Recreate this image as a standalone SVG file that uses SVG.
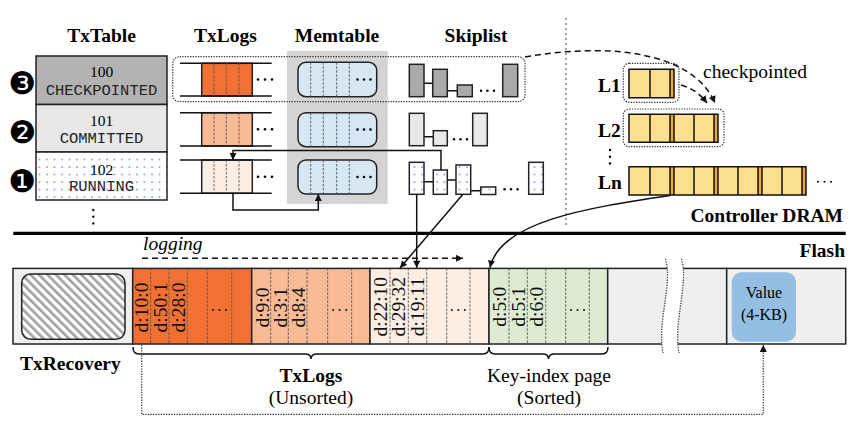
<svg xmlns="http://www.w3.org/2000/svg" width="864" height="432" viewBox="0 0 864 432">
<style>
.s{font-family:"Liberation Serif","Times New Roman",serif;fill:#000}
.hd{font-weight:bold;font-size:19.5px}
.rg{font-size:19.5px}
.n{font-size:15.5px}
.mono{font-family:"Liberation Mono","Courier New",monospace;font-size:15.5px;fill:#222}
.rt{font-family:"Liberation Serif","Times New Roman",serif;font-size:19.5px;text-anchor:middle;fill:#111}
.m{text-anchor:middle}
.bx{stroke:#222;stroke-width:1.5}
.ln{stroke:#111;stroke-width:1.5;fill:none}
.dsh{stroke:#555;stroke-width:0.9;stroke-dasharray:2.5 1.5}
.dot{fill:none;stroke:#333;stroke-width:1.2;stroke-dasharray:1.3 1.3}
.dashed{fill:none;stroke:#111;stroke-width:1.5;stroke-dasharray:6 4}
.circ{font-family:"DejaVu Sans",sans-serif;font-size:31px;text-anchor:middle}
.yl{fill:#fde08e}
.st{fill:#f2a630}
</style>
<defs>
<pattern id="bd" width="7.5" height="7.5" patternUnits="userSpaceOnUse">
<rect width="7.5" height="7.5" fill="#fff"/>
<circle cx="2" cy="2" r="0.8" fill="#5a86d6"/>
</pattern>
<pattern id="hatch" width="6" height="6" patternUnits="userSpaceOnUse" patternTransform="rotate(-45)">
<rect width="6" height="6" fill="#fff"/>
<rect width="2.6" height="6" fill="#a0a0a0"/>
</pattern>
<marker id="ar" viewBox="0 0 10 10" refX="10" refY="5" markerWidth="8" markerHeight="7" markerUnits="userSpaceOnUse" orient="auto">
<path d="M0,0 L10,5 L0,10 z" fill="#111"/>
</marker>
</defs>
<rect width="864" height="432" fill="#fff"/>

<!-- headers -->
<text class="s hd m" x="101.5" y="42">TxTable</text>
<text class="s hd m" x="225.5" y="42">TxLogs</text>
<text class="s hd m" x="337" y="42">Memtable</text>
<text class="s hd m" x="476" y="42">Skiplist</text>

<!-- memtable background -->
<rect x="287" y="51" width="100.7" height="153" fill="#d4d4d4"/>

<!-- TxTable -->
<g id="txtable">
<rect x="36" y="56" width="131" height="48.5" fill="#b3b3b3" class="bx"/>
<rect x="36" y="104.5" width="131" height="47.5" fill="#e8e8e8" class="bx"/>
<rect x="36" y="152" width="131" height="48" fill="url(#bd)" class="bx"/>
<text class="s n m" x="101.5" y="77">100</text>
<text class="mono m" x="101.5" y="94.5">CHECKPOINTED</text>
<text class="s n m" x="101.5" y="125.5">101</text>
<text class="mono m" x="101.5" y="142.5">COMMITTED</text>
<text class="s n m" x="101.5" y="174.5">102</text>
<text class="mono m" x="101.5" y="190.5">RUNNING</text>
<circle cx="93.3" cy="210" r="1.2" fill="#111"/>
<circle cx="93.3" cy="216.7" r="1.2" fill="#111"/>
<circle cx="93.3" cy="223.4" r="1.2" fill="#111"/>
</g>
<g id="steps">
<text class="circ" x="22.5" y="94">❸</text>
<text class="circ" x="22.5" y="143">❷</text>
<text class="circ" x="22.5" y="192">❶</text>
</g>

<!-- TxLogs -->
<g id="txlogs">
<g>
<rect x="201.7" y="63.3" width="50.6" height="32.7" fill="#f07133" class="bx"/>
<line x1="180" y1="63.3" x2="271.7" y2="63.3" class="ln"/>
<line x1="180" y1="96" x2="271.7" y2="96" class="ln"/>
<path d="M214,63.3V96M226.3,63.3V96M239,63.3V96" class="dsh"/>
<circle cx="258" cy="79.5" r="1.3"/><circle cx="265" cy="79.5" r="1.3"/><circle cx="272" cy="79.5" r="1.3"/>
</g>
<g>
<rect x="201.7" y="112.7" width="50.6" height="33.3" fill="#f8bb96" class="bx"/>
<line x1="180" y1="112.7" x2="271.7" y2="112.7" class="ln"/>
<line x1="180" y1="146" x2="271.7" y2="146" class="ln"/>
<path d="M214,112.7V146M226.3,112.7V146M239,112.7V146" class="dsh"/>
<circle cx="258" cy="129.3" r="1.3"/><circle cx="265" cy="129.3" r="1.3"/><circle cx="272" cy="129.3" r="1.3"/>
</g>
<g>
<rect x="201.7" y="160" width="50.6" height="33.3" fill="#fdeee3" class="bx"/>
<line x1="180" y1="160" x2="271.7" y2="160" class="ln"/>
<line x1="180" y1="193.3" x2="271.7" y2="193.3" class="ln"/>
<path d="M214,160V193.3M226.3,160V193.3M239,160V193.3" class="dsh"/>
<circle cx="258" cy="176.7" r="1.3"/><circle cx="265" cy="176.7" r="1.3"/><circle cx="272" cy="176.7" r="1.3"/>
</g>
</g>

<!-- Memtable -->
<g id="memtable">
<rect x="298" y="62.3" width="78.7" height="34.4" rx="8" fill="#d8e7f4" class="bx"/>
<path d="M310.7,62.3V96.7M323.3,62.3V96.7M336.7,62.3V96.7M349.3,62.3V96.7" class="dsh"/>
<rect x="298" y="112.7" width="78.7" height="34" rx="8" fill="#d8e7f4" class="bx"/>
<path d="M310.7,112.7V146.7M323.3,112.7V146.7M336.7,112.7V146.7M349.3,112.7V146.7" class="dsh"/>
<rect x="298" y="160" width="78.7" height="34" rx="8" fill="#d8e7f4" class="bx"/>
<path d="M310.7,160V194M323.3,160V194M336.7,160V194M349.3,160V194" class="dsh"/>
<circle cx="357.5" cy="79.5" r="1.3"/><circle cx="364" cy="79.5" r="1.3"/><circle cx="370.5" cy="79.5" r="1.3"/>
<circle cx="357.5" cy="129.5" r="1.3"/><circle cx="364" cy="129.5" r="1.3"/><circle cx="370.5" cy="129.5" r="1.3"/>
<circle cx="357.5" cy="177" r="1.3"/><circle cx="364" cy="177" r="1.3"/><circle cx="370.5" cy="177" r="1.3"/>
</g>

<!-- Skiplist -->
<g id="skiplist">
<path d="M424,83.3H432.7M447.3,90.7H457.3M424,136.7H433.3M424,181.7H433.3M447.3,180H456M470.7,190.7H480.7" class="ln"/>
<rect x="409.3" y="64.3" width="14.7" height="32.4" fill="#aaa" class="bx"/>
<rect x="432.7" y="69.3" width="14.6" height="27.4" fill="#aaa" class="bx"/>
<rect x="457.3" y="85" width="15" height="11.7" fill="#aaa" class="bx"/>
<rect x="502.7" y="64.3" width="15" height="32.4" fill="#aaa" class="bx"/>
<circle cx="481" cy="90.7" r="1.2"/><circle cx="487.5" cy="90.7" r="1.2"/><circle cx="494" cy="90.7" r="1.2"/>
<rect x="409.3" y="113.3" width="14.7" height="32.4" fill="#e8e8e8" class="bx"/>
<rect x="433.3" y="130.7" width="14" height="15" fill="#e8e8e8" class="bx"/>
<rect x="472.7" y="113.3" width="14.6" height="32.4" fill="#e8e8e8" class="bx"/>
<circle cx="454" cy="139.3" r="1.2"/><circle cx="460.5" cy="139.3" r="1.2"/><circle cx="467" cy="139.3" r="1.2"/>
<rect x="409.3" y="162.3" width="14.7" height="32" fill="url(#bd)" class="bx"/>
<rect x="433.3" y="170" width="14" height="24.3" fill="url(#bd)" class="bx"/>
<rect x="456" y="165" width="14.7" height="29.3" fill="url(#bd)" class="bx"/>
<rect x="480.7" y="187" width="15" height="7.5" fill="url(#bd)" class="bx"/>
<rect x="528.7" y="162.3" width="14.6" height="32" fill="url(#bd)" class="bx"/>
<circle cx="504.5" cy="189.3" r="1.2"/><circle cx="511" cy="189.3" r="1.2"/><circle cx="517.5" cy="189.3" r="1.2"/>
</g>

<!-- checkpoint group -->
<rect x="172.7" y="56.7" width="352.3" height="45" rx="7" class="dot"/>

<!-- separator -->
<line x1="566" y1="18" x2="566" y2="226" stroke="#444" stroke-width="1" stroke-dasharray="2 3"/>

<!-- LSM levels -->
<g id="levels">
<text class="s hd" x="598" y="91.7">L1</text>
<text class="s hd" x="598" y="136.7">L2</text>
<text class="s hd" x="598" y="189.3">Ln</text>
<circle cx="610" cy="150" r="1.2"/><circle cx="610" cy="156.7" r="1.2"/><circle cx="610" cy="163.4" r="1.2"/>
<rect x="629" y="69.3" width="45" height="28.4" class="yl"/>
<rect x="670" y="69.3" width="4" height="28.4" class="st"/>
<path d="M629,69.3H674V97.7H629ZM650,69.3V97.7M670,69.3V97.7" class="ln"/>
<rect x="629" y="114.3" width="89" height="28" class="yl"/>
<rect x="670" y="114.3" width="4" height="28" class="st"/>
<rect x="714" y="114.3" width="4" height="28" class="st"/>
<path d="M629,114.3H718V142.3H629ZM650,114.3V142.3M670,114.3V142.3M674,114.3V142.3M694,114.3V142.3M714,114.3V142.3" class="ln"/>
<rect x="629" y="166.7" width="177" height="28.3" class="yl"/>
<rect x="670" y="166.7" width="4" height="28.3" class="st"/>
<rect x="714" y="166.7" width="4" height="28.3" class="st"/>
<rect x="758" y="166.7" width="4" height="28.3" class="st"/>
<rect x="802" y="166.7" width="4" height="28.3" class="st"/>
<path d="M629,166.7H806V195H629ZM650,166.7V195M670,166.7V195M674,166.7V195M694,166.7V195M714,166.7V195M718,166.7V195M738,166.7V195M758,166.7V195M762,166.7V195M782,166.7V195M802,166.7V195" class="ln"/>
<circle cx="818" cy="181.7" r="1"/><circle cx="824.5" cy="181.7" r="1"/><circle cx="831" cy="181.7" r="1"/>
<rect x="623.3" y="63.3" width="55.7" height="39" rx="6" class="dot"/>
<rect x="623.3" y="109" width="100.7" height="37.7" rx="6" class="dot"/>
<text class="s rg" x="703" y="78">checkpointed</text>
</g>

<text class="s hd" x="843" y="221.7" text-anchor="end">Controller DRAM</text>

<!-- divider -->
<line x1="13.3" y1="233.3" x2="845.7" y2="233.3" stroke="#000" stroke-width="3.2"/>
<text class="s hd" x="845" y="256.7" text-anchor="end">Flash</text>
<text class="s rg" x="143" y="250" font-style="italic">logging</text>

<!-- Flash strip -->
<g id="flash">
<rect x="13" y="268.4" width="119.7" height="75.6" fill="#efefef" class="bx"/>
<rect x="132.7" y="268.4" width="119" height="75.6" fill="#f07133" class="bx"/>
<rect x="251.7" y="268.4" width="118.3" height="75.6" fill="#f8bb96" class="bx"/>
<rect x="370" y="268.4" width="119" height="75.6" fill="#fdeee3" class="bx"/>
<rect x="489" y="268.4" width="118.7" height="75.6" fill="#dcebd1" class="bx"/>
<rect x="607.7" y="268.4" width="119" height="75.6" fill="#efefef" class="bx"/>
<rect x="726.7" y="268.4" width="119" height="75.6" fill="#efefef" class="bx"/>
<path d="M150.7,268.4V344M169,268.4V344M187.3,268.4V344M207.3,268.4V344M231.7,268.4V344M270.7,268.4V344M288.3,268.4V344M307,268.4V344M327.7,268.4V344M351.7,268.4V344M390,268.4V344M408.3,268.4V344M426.7,268.4V344M446.7,268.4V344M470,268.4V344M509,268.4V344M527.3,268.4V344M545.7,268.4V344M565.7,268.4V344M589.3,268.4V344" class="dsh"/>
<rect x="21.7" y="274" width="103.3" height="65.3" rx="9" fill="url(#hatch)" class="bx"/>
<text class="rt" transform="translate(148.3,307.5) rotate(-90)">d:10:0</text>
<text class="rt" transform="translate(166.5,307.5) rotate(-90)">d:50:1</text>
<text class="rt" transform="translate(185,307.5) rotate(-90)">d:28:0</text>
<text class="rt" transform="translate(268.5,307.5) rotate(-90)">d:9:0</text>
<text class="rt" transform="translate(286.5,307.5) rotate(-90)">d:3:1</text>
<text class="rt" transform="translate(304.5,307.5) rotate(-90)">d:8:4</text>
<text class="rt" transform="translate(386.6,306.7) rotate(-90)">d:22:10</text>
<text class="rt" transform="translate(405,306.7) rotate(-90)">d:29:32</text>
<text class="rt" transform="translate(424,306.7) rotate(-90)">d:19:11</text>
<text class="rt" transform="translate(506.3,306.7) rotate(-90)">d:5:0</text>
<text class="rt" transform="translate(524.8,306.7) rotate(-90)">d:5:1</text>
<text class="rt" transform="translate(542.8,306.7) rotate(-90)">d:6:0</text>
<g fill="#111">
<circle cx="213" cy="310" r="1"/><circle cx="219.5" cy="310" r="1"/><circle cx="226" cy="310" r="1"/>
<circle cx="333.2" cy="310" r="1"/><circle cx="339.7" cy="310" r="1"/><circle cx="346.2" cy="310" r="1"/>
<circle cx="451.8" cy="310" r="1"/><circle cx="458.3" cy="310" r="1"/><circle cx="464.8" cy="310" r="1"/>
<circle cx="571" cy="310" r="1"/><circle cx="577.5" cy="310" r="1"/><circle cx="584" cy="310" r="1"/>
</g>
<path d="M665.5,259 C673,283 657,322 663,353 L679,353 C673,322 689,283 681.5,259 Z" fill="#fff"/>
<path d="M665.5,259 C673,283 657,322 663,353 M681.5,259 C689,283 673,322 679,353" class="dot"/>
<rect x="731.7" y="272.3" width="64.3" height="69.4" rx="10" fill="#94bfe3"/>
<text class="s m" x="764" y="297.7" font-size="16">Value</text>
<text class="s m" x="764" y="320" font-size="16">(4-KB)</text>
</g>

<!-- labels below flash -->
<text class="s hd" x="20" y="369.5">TxRecovery</text>
<path d="M133,347 Q133,354 139,354 H305 Q311,354 311,359 Q311,354 317,354 H483 Q489,354 489,347" class="ln" stroke-width="1.2"/>
<path d="M489,347 Q489,354 495,354 H542.5 Q548.5,354 548.5,359 Q548.5,354 554.5,354 H602 Q608,354 608,347" class="ln" stroke-width="1.2"/>
<text class="s hd m" x="311" y="382">TxLogs</text>
<text class="s rg m" x="311" y="403.5">(Unsorted)</text>
<text class="s rg m" x="549" y="382">Key-index page</text>
<text class="s rg m" x="549" y="403.5">(Sorted)</text>

<!-- connectors -->
<g id="connectors">
<path d="M441,170 V150.5 H233 V160" class="ln" marker-end="url(#ar)"/>
<path d="M233,193.3 V210 H318.3 V194" class="ln" marker-end="url(#ar)"/>
<path d="M416.7,194.3 V267.8" class="ln" marker-end="url(#ar)"/>
<path d="M462.7,194.5 L400,268" class="ln" marker-end="url(#ar)"/>
<path d="M670,195.5 C585,208 500,222 490,267.5" class="ln" marker-end="url(#ar)"/>
<path d="M142,258.3 H463" class="dashed" marker-end="url(#ar)"/>
<path d="M525,57 C610,42 693,52 715,103" class="dashed" marker-end="url(#ar)"/>
<path d="M681,85 C692,88 700,94 707,103" class="dashed" marker-end="url(#ar)"/>
<path d="M141.7,345 V414.3 H763.3 V345" class="dot" marker-end="url(#ar)"/>
</g>
</svg>
